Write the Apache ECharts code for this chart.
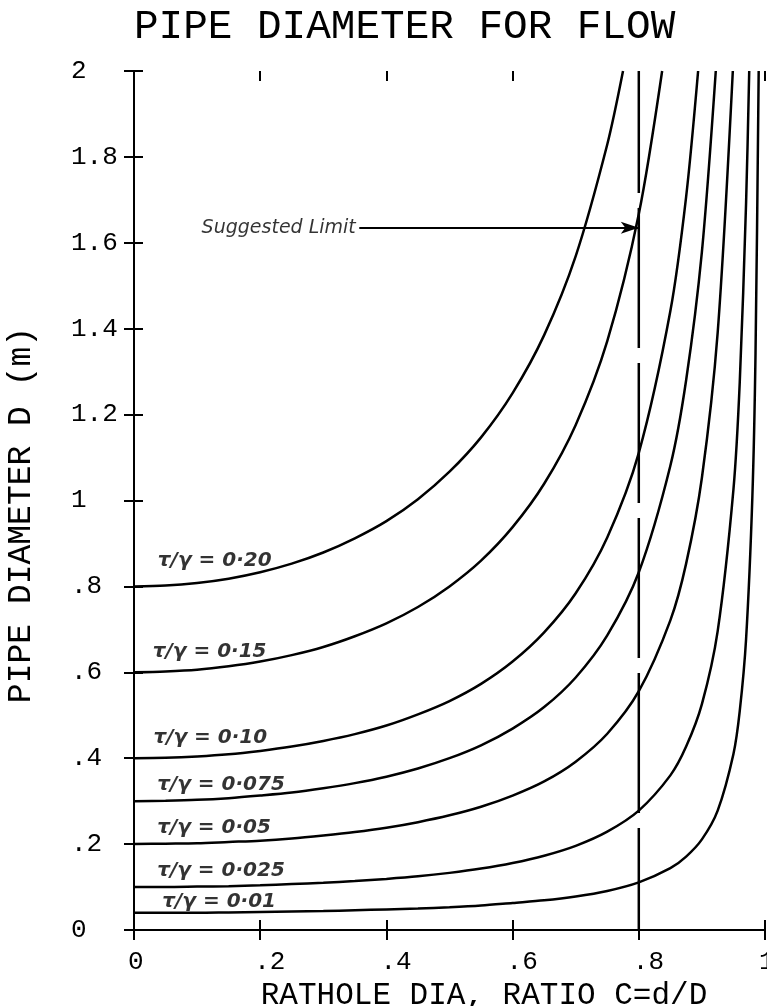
<!DOCTYPE html>
<html>
<head>
<meta charset="utf-8">
<title>Pipe diameter for flow</title>
<script src="https://cdn.jsdelivr.net/npm/echarts@6.0.0/dist/echarts.min.js"></script>
<style>
  html, body { margin: 0; padding: 0; background: #fff; }
  #chart { width: 767px; height: 1006px; }
</style>
</head>
<body>
<div id="chart"></div>
<script>
var ratioC = [0, 0.05, 0.1, 0.15, 0.2, 0.25, 0.3, 0.35, 0.4, 0.45, 0.5, 0.55, 0.6, 0.65, 0.7, 0.75, 0.8, 0.85,
    0.875, 0.9, 0.925, 0.95, 0.96, 0.97, 0.98, 0.985];

// pipe diameter D (m) for each tau/gamma, same order as ratioC
var dia020 = [0.800, 0.802, 0.808, 0.818, 0.833, 0.853, 0.879, 0.912, 0.952, 1.003, 1.067, 1.147, 1.250, 1.385, 1.569, 1.829];
var dia015 = [0.600, 0.602, 0.606, 0.614, 0.625, 0.640, 0.659, 0.684, 0.714, 0.752, 0.800, 0.860, 0.938, 1.039, 1.176, 1.371, 1.667];
var dia010 = [0.400, 0.401, 0.404, 0.409, 0.417, 0.427, 0.440, 0.456, 0.476, 0.502, 0.533, 0.573, 0.625, 0.693, 0.784, 0.914, 1.111, 1.441, 1.707];
var dia0075 = [0.300, 0.301, 0.303, 0.307, 0.313, 0.320, 0.330, 0.342, 0.357, 0.376, 0.400, 0.430, 0.469, 0.519, 0.588, 0.686, 0.833, 1.081, 1.280, 1.579];
var dia005 = [0.200, 0.201, 0.202, 0.205, 0.208, 0.213, 0.220, 0.228, 0.238, 0.251, 0.267, 0.287, 0.313, 0.346, 0.392, 0.457, 0.556, 0.721, 0.853, 1.053, 1.391];
var dia0025 = [0.100, 0.100, 0.101, 0.102, 0.104, 0.107, 0.110, 0.114, 0.119, 0.125, 0.133, 0.143, 0.156, 0.173, 0.196, 0.229, 0.278, 0.360,
    0.427, 0.526, 0.696, 1.026, 1.276, 1.692];
var dia001 = [0.040, 0.040, 0.040, 0.041, 0.042, 0.043, 0.044, 0.046, 0.048, 0.050, 0.053, 0.057, 0.063, 0.069, 0.078, 0.091, 0.111, 0.144,
    0.171, 0.211, 0.278, 0.410, 0.510, 0.677, 1.010, 1.344];

// C where each curve leaves the top of the chart (D = 2)
var exitC = [0.775, 0.837, 0.894, 0.922, 0.949, 0.975, 0.990];

var curveNames = ['τ/γ = 0·20', 'τ/γ = 0·15', 'τ/γ = 0·10', 'τ/γ = 0·075', 'τ/γ = 0·05', 'τ/γ = 0·025', 'τ/γ = 0·01'];
var labelC = [0.037, 0.029, 0.030, 0.036, 0.036, 0.036, 0.044];
var labelD = [0.86, 0.647, 0.447, 0.338, 0.238, 0.137, 0.066];

var ratioLabels = ['0', '.2', '.4', '.6', '.8', '1'];
var diaLabels = ['0', '.2', '.4', '.6', '.8', '1', '1.2', '1.4', '1.6', '1.8', '2'];

var limitC = 0.8;
var arrowD = 1.635;
var arrowFromC = 0.357;
var diaMax = 2;

var monoFont = '"Liberation Mono", "DejaVu Sans Mono", monospace';
var handFont = '"DejaVu Sans", sans-serif';

var myChart = echarts.init(document.getElementById('chart'));

function curvePoints(dia, i) {
    var pts = dia.map(function (d, k) { return [ratioC[k], d]; });
    pts.push([exitC[i], diaMax]);
    return pts;
}

var allDia = [dia020, dia015, dia010, dia0075, dia005, dia0025, dia001];

var series = allDia.map(function (dia, i) {
    return {
        name: curveNames[i],
        type: 'line',
        data: curvePoints(dia, i),
        showSymbol: false,
        symbol: 'none',
        smooth: 0.3,
        lineStyle: { color: '#000', width: 2.5 },
        silent: true
    };
});

// dashed suggested limit line
series.push({
    name: 'limit',
    type: 'line',
    data: [[limitC, diaMax], [limitC, 0]],
    symbol: 'none',
    lineStyle: { color: '#000', width: 2.5, type: [140, 15], dashOffset: 18 },
    silent: true
});

// curve labels
series.push({
    name: 'labels',
    type: 'scatter',
    symbol: 'circle',
    symbolSize: 1,
    itemStyle: { color: 'rgba(0,0,0,0)' },
    silent: true,
    data: curveNames.map(function (n, i) {
        return { name: n, value: [labelC[i], labelD[i]] };
    }),
    label: {
        show: true,
        position: 'right',
        distance: 0,
        formatter: '{b}',
        color: '#000',
        fontFamily: handFont,
        fontStyle: 'italic',
        fontWeight: 'bold',
        fontSize: 20
    }
});

// "Suggested Limit" note with arrow
series.push({
    name: 'note',
    type: 'scatter',
    symbol: 'circle',
    symbolSize: 1,
    itemStyle: { color: 'rgba(0,0,0,0)' },
    silent: true,
    data: [{ name: 'Suggested Limit', value: [arrowFromC, arrowD] }],
    label: {
        show: true,
        position: 'left',
        distance: 3,
        formatter: '{b}',
        color: '#000',
        fontFamily: handFont,
        fontStyle: 'italic',
        fontSize: 19
    },
    markLine: {
        silent: true,
        animation: false,
        symbol: ['none', 'arrow'],
        symbolSize: [9, 18],
        label: { show: false },
        lineStyle: { color: '#000', width: 2, type: 'solid' },
        data: [[{ coord: [arrowFromC, arrowD] }, { coord: [limitC, arrowD] }]]
    }
});

function ratioFmt(v) { return ratioLabels[Math.round(v / 0.2)]; }
function diaFmt(v) { return diaLabels[Math.round(v / 0.2)]; }

var axisLine = { show: true, lineStyle: { color: '#000', width: 2 } };
var noLine = { show: false };

function xAx(pos, inside, showLine, label, extra) {
    var a = {
        type: 'value', min: 0, max: 1, interval: 0.2, position: pos,
        axisLine: showLine ? axisLine : noLine,
        axisTick: { show: true, inside: inside, length: 10, lineStyle: { color: '#000', width: 2 } },
        axisLabel: label || { show: false },
        splitLine: { show: false }
    };
    return Object.assign(a, extra || {});
}

function yAx(pos, inside, showLine, label, len, extra) {
    var a = {
        type: 'value', min: 0, max: 2, interval: 0.2, position: pos,
        axisLine: showLine ? axisLine : noLine,
        axisTick: { show: true, inside: inside, length: len, lineStyle: { color: '#000', width: 2 } },
        axisLabel: label || { show: false },
        splitLine: { show: false }
    };
    return Object.assign(a, extra || {});
}

var option = {
    animation: false,
    backgroundColor: '#fff',
    title: {
        text: 'PIPE DIAMETER FOR FLOW',
        left: 134,
        top: 7,
        padding: 0,
        textStyle: { color: '#000', fontFamily: monoFont, fontSize: 41, fontWeight: 'normal' }
    },
    grid: { left: 134, right: 2, top: 71, bottom: 76, outerBoundsMode: 'none' },
    xAxis: [
        xAx('bottom', false, true, {
            show: true, formatter: ratioFmt, align: 'left', padding: [0, 0, 0, -6], margin: 19,
            color: '#000', fontFamily: monoFont, fontSize: 26
        }, {
            name: 'RATHOLE DIA, RATIO C=d/D',
            nameLocation: 'middle',
            nameGap: 49,
            nameTextStyle: { color: '#000', fontFamily: monoFont, fontSize: 31, padding: [0, 0, 0, 69] }
        }),
        xAx('bottom', true, false),
        xAx('top', false, true),
        xAx('top', true, false)
    ],
    yAxis: [
        yAx('left', false, true, {
            show: true, formatter: diaFmt, align: 'left', margin: 63,
            color: '#000', fontFamily: monoFont, fontSize: 26
        }, 9, {
            name: 'PIPE DIAMETER D (m)',
            nameLocation: 'middle',
            nameRotate: 90,
            nameGap: 96,
            nameTextStyle: { color: '#000', fontFamily: monoFont, fontSize: 33, padding: [0, 29, 0, 0] }
        }),
        yAx('left', true, false, null, 9),
        yAx('right', true, true, null, 10)
    ],
    series: series
};

myChart.setOption(option);
</script>
</body>
</html>
